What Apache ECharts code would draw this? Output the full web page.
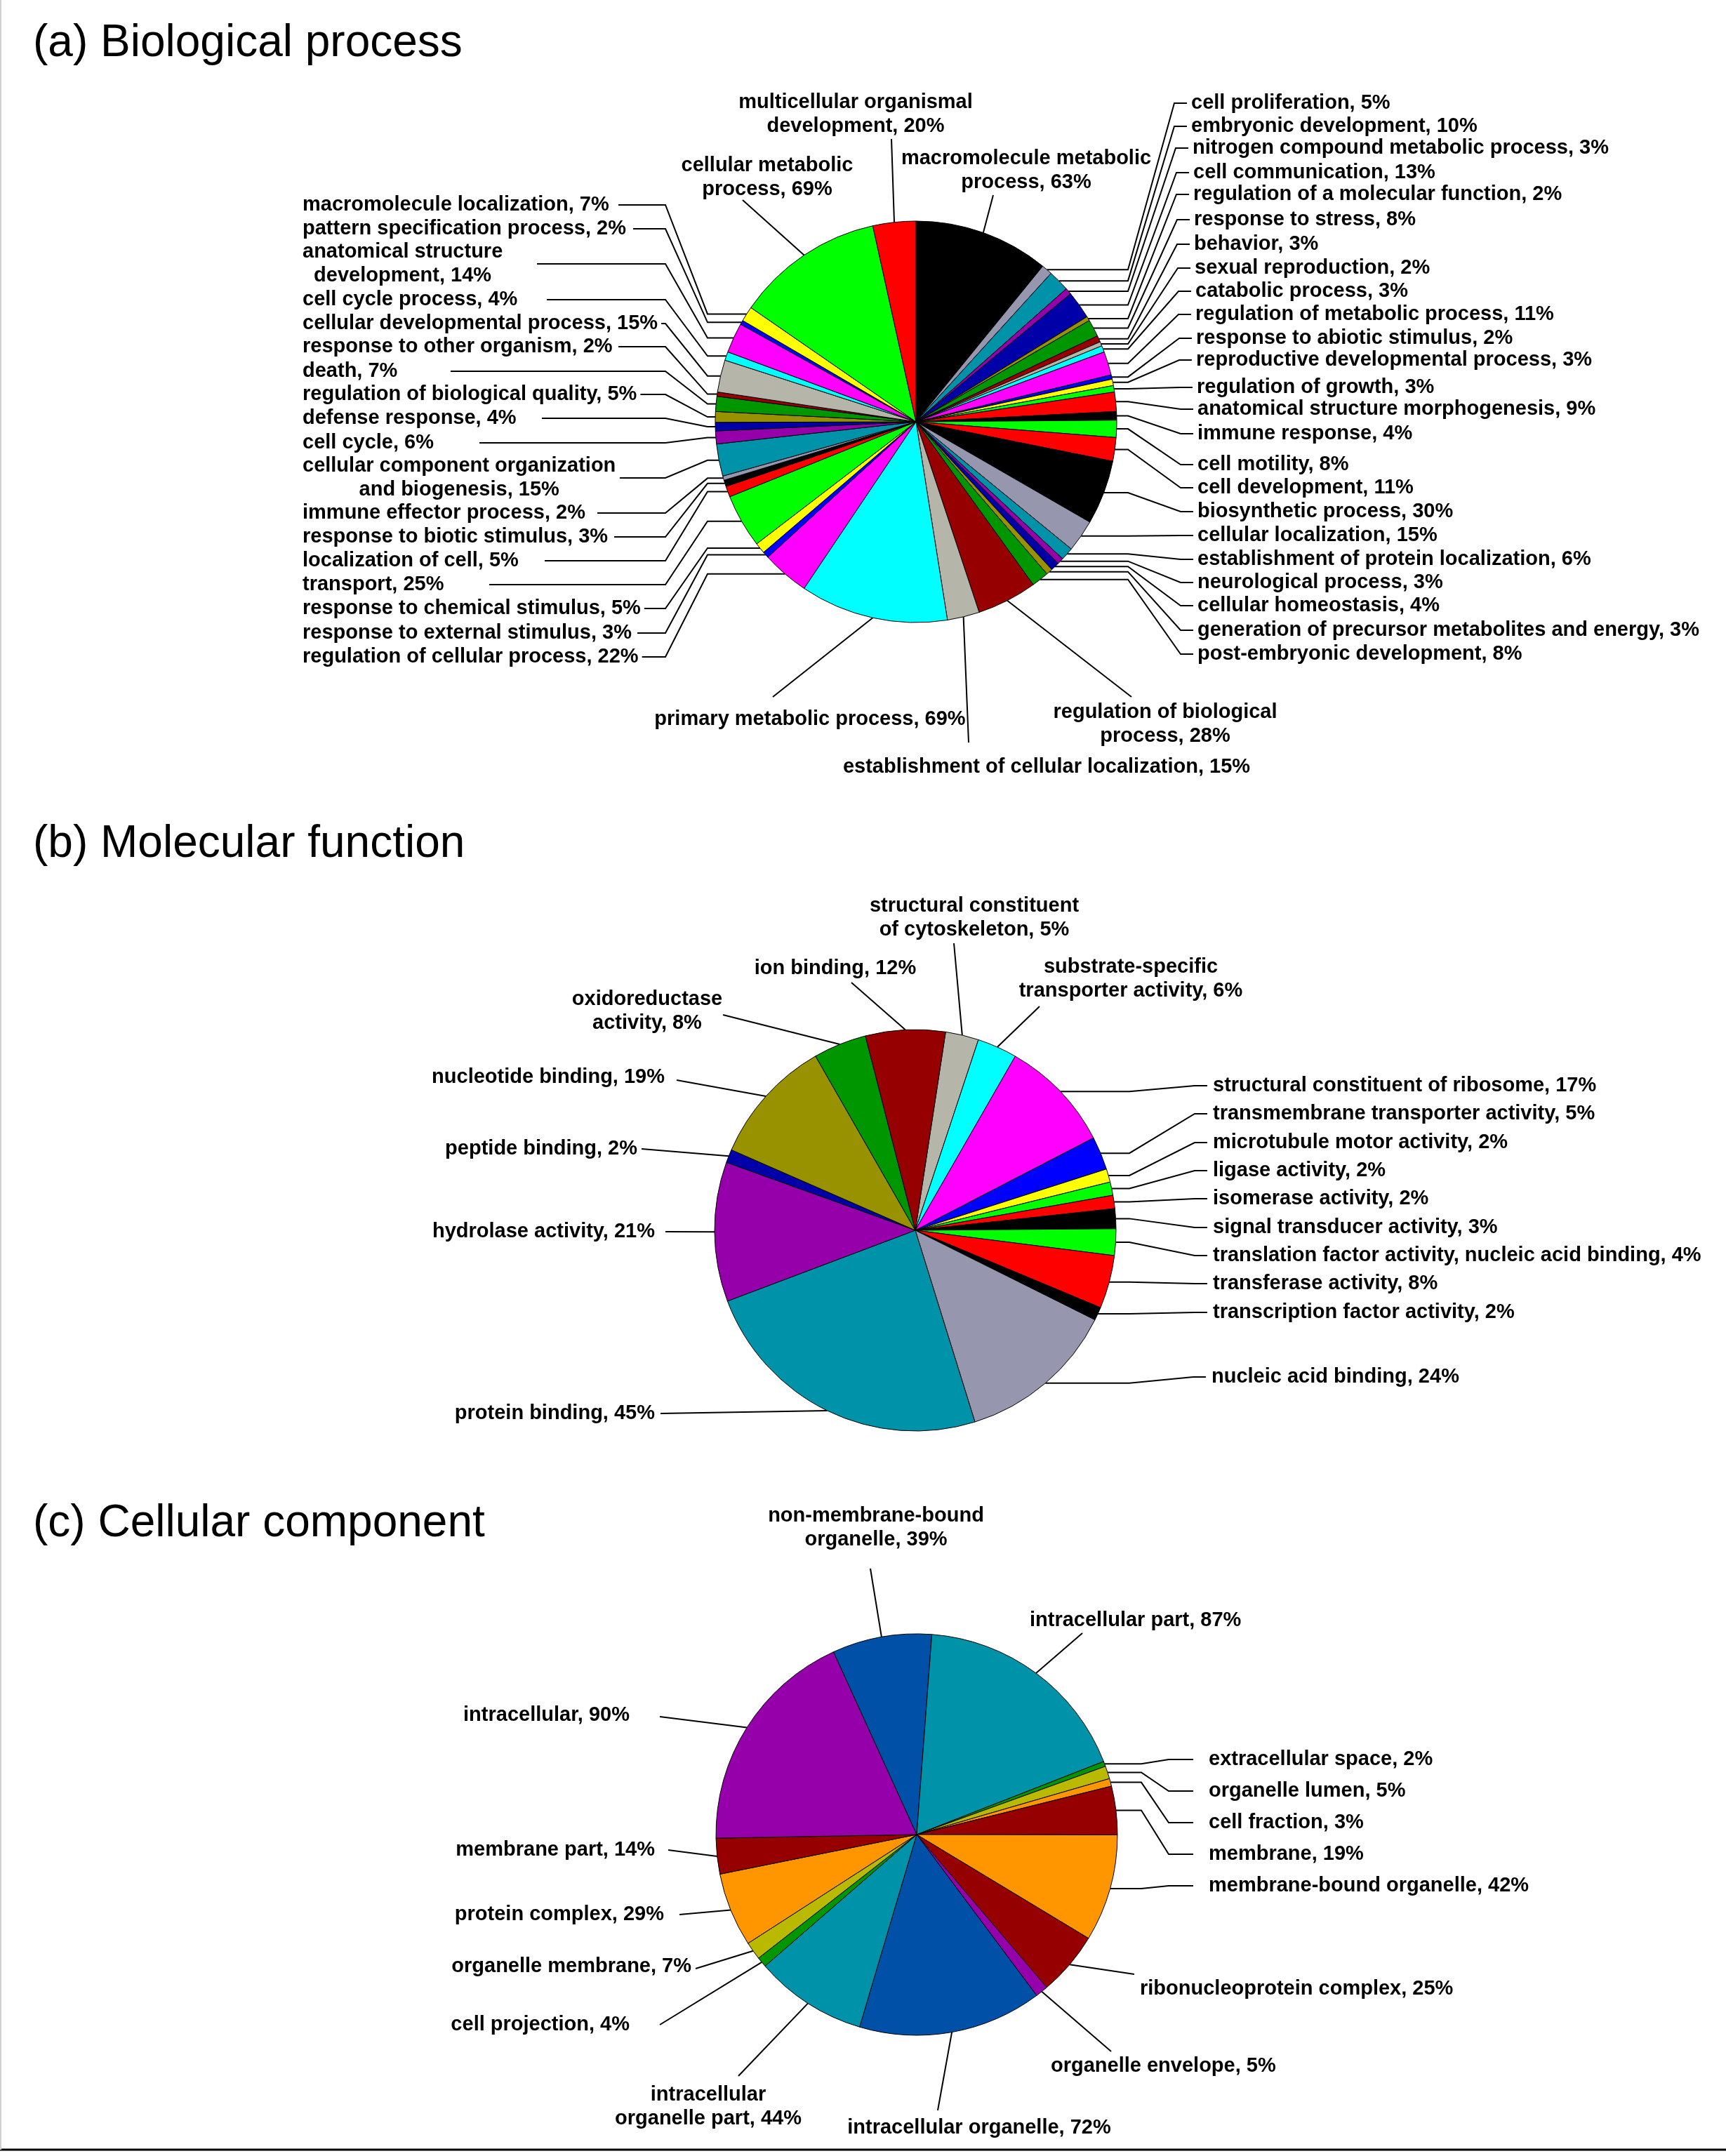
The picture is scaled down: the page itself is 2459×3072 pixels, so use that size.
<!DOCTYPE html>
<html><head><meta charset="utf-8">
<script src="https://cdn.jsdelivr.net/npm/echarts@6/dist/echarts.min.js"></script>
<style>html,body{margin:0;padding:0;background:#fff}#c{width:2459px;height:3072px}</style>
</head><body><div id="c"></div><script>
// ================= DATA =================
const titles = ['(a) Biological process', '(b) Molecular function', '(c) Cellular component'];

const bpNames = ['macromolecule metabolic process','cell proliferation','embryonic development','nitrogen compound metabolic process','cell communication','regulation of a molecular function','response to stress','behavior','sexual reproduction','catabolic process','regulation of metabolic process','response to abiotic stimulus','reproductive developmental process','regulation of growth','anatomical structure morphogenesis','immune response','cell motility','cell development','biosynthetic process','cellular localization','establishment of protein localization','neurological process','cellular homeostasis','generation of precursor metabolites and energy','post-embryonic development','regulation of biological process','establishment of cellular localization','primary metabolic process','regulation of cellular process','response to external stimulus','response to chemical stimulus','transport','localization of cell','response to biotic stimulus','immune effector process','cellular component organization and biogenesis','cell cycle','defense response','regulation of biological quality','death','response to other organism','cellular developmental process','cell cycle process','anatomical structure development','pattern specification process','macromolecule localization','cellular metabolic process','multicellular organismal development'];
const bpValues = [63,5,10,3,13,2,8,3,2,3,11,2,3,3,9,4,8,11,30,15,6,3,4,3,8,28,15,69,22,3,5,25,5,3,2,15,6,4,5,7,2,15,4,14,2,7,69,20];

const mfNames = ['structural constituent of cytoskeleton','substrate-specific transporter activity','structural constituent of ribosome','transmembrane transporter activity','microtubule motor activity','ligase activity','isomerase activity','signal transducer activity','translation factor activity, nucleic acid binding','transferase activity','transcription factor activity','nucleic acid binding','protein binding','hydrolase activity','peptide binding','nucleotide binding','oxidoreductase activity','ion binding'];
const mfValues = [5,6,17,5,2,2,2,3,4,8,2,24,45,21,2,19,8,12];

const ccNames = ['non-membrane-bound organelle','intracellular part','extracellular space','organelle lumen','cell fraction','membrane','membrane-bound organelle','ribonucleoprotein complex','organelle envelope','intracellular organelle','intracellular organelle part','cell projection','organelle membrane','protein complex','membrane part','intracellular'];
const ccValues = [39,87,2,5,3,19,42,25,5,72,44,4,7,29,14,90];

// ================= STYLE =================
const P = {
  k:'#000000', gb:'#9696AE', te:'#0092A8', pu:'#9600AA', db:'#0000A8', ol:'#999200',
  gr:'#009600', dr:'#960000', gy:'#B5B5AA', cy:'#00FFFF', ma:'#FF00FF', bl:'#0000FF',
  ye:'#FFFF00', li:'#00FF00', re:'#FF0000', or:'#FF9600', yo:'#B9B900', cb:'#0050A8'
};
const bpColorKeys = ['k','gb','te','pu','db','ol','gr','dr','gy','cy','ma','bl','ye','li','re','k','li','re',
  'k','gb','te','pu','db','ol','gr','dr','gy','cy','ma','bl','ye','li','re',
  'k','gb','te','pu','db','ol','gr','dr','gy','cy','ma','bl','ye','li','re'];
const mfColorKeys = ['gy','cy','ma','bl','ye','li','re','k','li','re','k','gb','te','pu','db','ol','gr','dr'];
const ccColorKeys = ['cb','te','gr','yo','or','dr','or','dr','pu','cb','te','gr','yo','or','dr','pu'];

const FONT = "'Liberation Sans', Arial, Helvetica, sans-serif";
const R = 286;

// ================= LAYOUT (label placement) =================
// m: R = right-side stacked, L = left-side stacked, D = direct leader line
const bpLayout = [
  {m:'D', x:1462, y:243, a:'center', ex:1415, ey:278, br:'macromolecule metabolic'},
  {m:'R', x:1697, y:147},{m:'R', x:1697, y:180},{m:'R', x:1699, y:211},{m:'R', x:1700, y:246},
  {m:'R', x:1700, y:277},{m:'R', x:1701, y:313},{m:'R', x:1701, y:348},{m:'R', x:1702, y:382},
  {m:'R', x:1703, y:415},{m:'R', x:1703, y:448},{m:'R', x:1704, y:482},{m:'R', x:1704, y:513},
  {m:'R', x:1705, y:552},{m:'R', x:1706, y:583},{m:'R', x:1706, y:618},{m:'R', x:1706, y:662},
  {m:'R', x:1706, y:695},{m:'R', x:1706, y:729},{m:'R', x:1706, y:763},{m:'R', x:1706, y:797},
  {m:'R', x:1706, y:830},{m:'R', x:1706, y:863},{m:'R', x:1706, y:898},{m:'R', x:1706, y:932},
  {m:'D', x:1660, y:1032, a:'center', ex:1612, ey:993, br:'regulation of biological'},
  {m:'D', x:1491, y:1093, a:'center', ex:1380, ey:1058},
  {m:'D', x:1154, y:1025, a:'center', ex:1101, ey:993},
  {m:'L', x:431, y:936, lx:914},{m:'L', x:431, y:902, lx:908},{m:'L', x:431, y:867, lx:912},
  {m:'L', x:431, y:833, lx:697},{m:'L', x:431, y:799, lx:776},{m:'L', x:431, y:765, lx:875},
  {m:'L', x:431, y:731, lx:851},{m:'L', x:431, y:681, lx:883, br:'cellular component organization'},
  {m:'L', x:431, y:631, lx:683},{m:'L', x:431, y:596, lx:772},{m:'L', x:431, y:562, lx:912},
  {m:'L', x:431, y:529, lx:642},{m:'L', x:431, y:494, lx:881},{m:'L', x:431, y:461, lx:932},
  {m:'L', x:431, y:427, lx:779},{m:'L', x:431, y:376, lx:765, br:'anatomical structure'},
  {m:'L', x:431, y:326, lx:902},{m:'L', x:431, y:292, lx:881},
  {m:'D', x:1093, y:253, a:'center', ex:1058, ey:285, br:'cellular metabolic'},
  {m:'D', x:1219, y:163, a:'center', ex:1270, ey:198, br:'multicellular organismal'}
];
const mfLayout = [
  {m:'D', x:1388, y:1308, a:'center', ex:1359, ey:1344, br:'structural constituent'},
  {m:'D', x:1611, y:1395, a:'center', ex:1481, ey:1434, br:'substrate-specific'},
  {m:'R', x:1728, y:1547},{m:'R', x:1728, y:1587},{m:'R', x:1728, y:1628},{m:'R', x:1728, y:1668},
  {m:'R', x:1728, y:1708},{m:'R', x:1728, y:1749},{m:'R', x:1728, y:1789},{m:'R', x:1728, y:1829},
  {m:'R', x:1728, y:1870},{m:'R', x:1726, y:1962},
  {m:'D', x:933, y:2014, a:'right', ex:941, ey:2014},
  {m:'D', x:933, y:1755, a:'right', ex:948, ey:1755},
  {m:'D', x:908, y:1637, a:'right', ex:914, ey:1637},
  {m:'D', x:947, y:1535, a:'right', ex:964, ey:1539},
  {m:'D', x:922, y:1441, a:'center', ex:1030, ey:1446, br:'oxidoreductase'},
  {m:'D', x:1190, y:1380, a:'center', ex:1213, ey:1400}
];
const ccLayout = [
  {m:'D', x:1248, y:2177, a:'center', ex:1240, ey:2235, br:'non-membrane-bound'},
  {m:'D', x:1467, y:2309, a:'left', ex:1542, ey:2327},
  {m:'R', x:1722, y:2507},{m:'R', x:1722, y:2552},{m:'R', x:1722, y:2597},{m:'R', x:1722, y:2642},
  {m:'R', x:1722, y:2687},
  {m:'D', x:1624, y:2834, a:'left', ex:1616, ey:2813},
  {m:'D', x:1497, y:2944, a:'left', ex:1583, ey:2923},
  {m:'D', x:1395, y:3032, a:'center', ex:1336, ey:3007},
  {m:'D', x:1009, y:3002, a:'center', ex:1052, ey:2958, br:'intracellular'},
  {m:'D', x:897, y:2885, a:'right', ex:940, ey:2885},
  {m:'D', x:985, y:2802, a:'right', ex:991, ey:2805},
  {m:'D', x:946, y:2728, a:'right', ex:968, ey:2728},
  {m:'D', x:933, y:2636, a:'right', ex:952, ey:2636},
  {m:'D', x:897, y:2444, a:'right', ex:940, ey:2446}
];

const geoBP = {cx:1305, cy:601, start:90,   b1:1607, d2:24, d3:6,  lb1:1008, lb2:948};
const geoMF = {cx:1304, cy:1753, start:81.3, b1:1609, d2:26, d3:8};
const geoCC = {cx:1306, cy:2614, start:114.5, b1:1626, d2:57, d3:22};

// ================= BUILD =================
function edgePoint(values, idx, g) {
  const total = values.reduce((a, b) => a + b, 0);
  let cum = 0;
  for (let i = 0; i < idx; i++) cum += values[i];
  const ang = (g.start - (cum + values[idx] / 2) / total * 360) * Math.PI / 180;
  return [g.cx + R * Math.cos(ang), g.cy - R * Math.sin(ang)];
}

function makeLayout(layout, values, g) {
  return function (params) {
    const s = layout[params.dataIndex];
    const w = params.labelRect.width;
    const p0 = (params.labelLinePoints && params.labelLinePoints[0])
      ? params.labelLinePoints[0].slice() : edgePoint(values, params.dataIndex, g);
    let x = s.x, align = s.a || 'left';
    if (s.br && align === 'left') { x = s.x + w / 2; align = 'center'; }
    else if (s.br && align === 'right') { x = s.x - w / 2; align = 'center'; }
    let pts;
    if (s.m === 'R') {
      pts = [p0, [Math.max(g.b1, p0[0] + 8), p0[1]], [s.x - g.d2, s.y], [s.x - g.d3, s.y]];
    } else if (s.m === 'L') {
      const lx = Math.max(s.lx, s.x + w + 5);
      pts = [p0, [Math.min(g.lb1, p0[0] - 8), p0[1]], [g.lb2, s.y], [lx, s.y]];
    } else {
      pts = [p0, [s.ex, s.ey]];
    }
    return { x: x, y: s.y, align: align, verticalAlign: 'middle', labelLinePoints: pts };
  };
}

function pieSeries(names, values, colorKeys, layout, g) {
  return {
    type: 'pie',
    center: [g.cx, g.cy],
    radius: R,
    startAngle: g.start,
    clockwise: true,
    avoidLabelOverlap: false,
    silent: true,
    animation: false,
    emphasis: { disabled: true },
    data: names.map((n, i) => ({ name: n, value: values[i], itemStyle: { color: P[colorKeys[i]] } })),
    itemStyle: { borderColor: '#000', borderWidth: 1 },
    label: {
      show: true, position: 'outside', color: '#000', fontFamily: FONT, fontWeight: 'bold',
      fontSize: 29, lineHeight: 34,
      formatter: function (p) {
        const s = layout[p.dataIndex];
        const full = p.name + ', ' + p.value + '%';
        return s.br ? s.br + '\n' + full.slice(s.br.length + 1) : full;
      }
    },
    labelLine: { show: true, length: 10, length2: 10, smooth: false, lineStyle: { color: '#000', width: 2 } },
    labelLayout: makeLayout(layout, values, g)
  };
}

const titleY = [62, 1203, 2171];
const chart = echarts.init(document.getElementById('c'), null, { renderer: 'canvas', devicePixelRatio: 1 });
chart.setOption({
  backgroundColor: '#ffffff',
  animation: false,
  graphic: titles.map((t, i) => ({
    type: 'text', x: 47, y: titleY[i], silent: true,
    style: { text: t, fill: '#000', fontSize: 64, fontFamily: FONT, fontWeight: 'normal', align: 'left', verticalAlign: 'middle' }
  })).concat([
    { type: 'line', silent: true, shape: { x1: 0, y1: 3063, x2: 2459, y2: 3063 }, style: { stroke: '#000', lineWidth: 3 } },
    { type: 'line', silent: true, shape: { x1: 1, y1: 0, x2: 1, y2: 3063 }, style: { stroke: '#d0d0d0', lineWidth: 2 } }
  ]),
  series: [
    pieSeries(bpNames, bpValues, bpColorKeys, bpLayout, geoBP),
    pieSeries(mfNames, mfValues, mfColorKeys, mfLayout, geoMF),
    pieSeries(ccNames, ccValues, ccColorKeys, ccLayout, geoCC)
  ]
});
</script></body></html>
